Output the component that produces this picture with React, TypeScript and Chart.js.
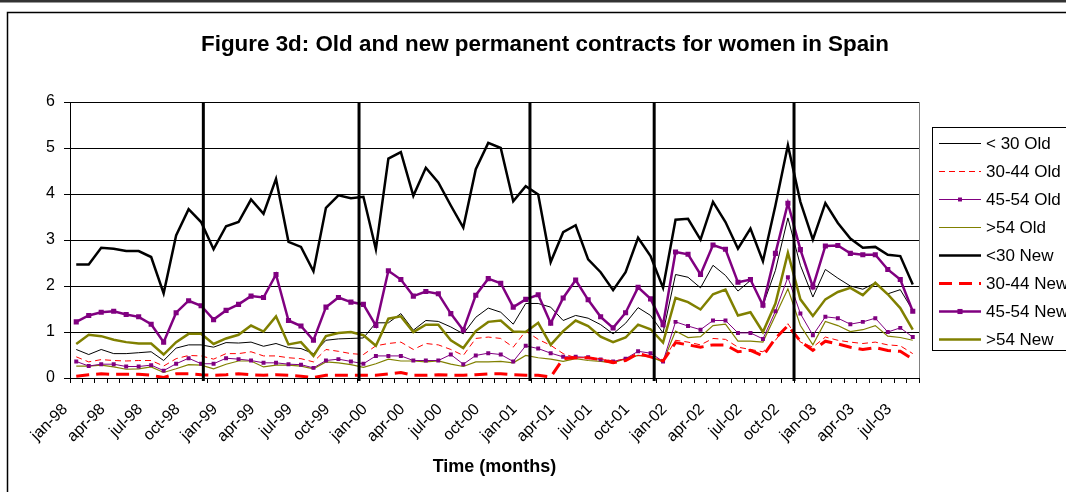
import React, { useEffect, useRef } from 'react';
import { Chart, registerables } from 'chart.js';

Chart.register(...registerables);

const categories = [
  'jan-98','feb-98','mar-98','apr-98','may-98','jun-98','jul-98','aug-98','sep-98','oct-98','nov-98','dec-98',
  'jan-99','feb-99','mar-99','apr-99','may-99','jun-99','jul-99','aug-99','sep-99','oct-99','nov-99','dec-99',
  'jan-00','feb-00','mar-00','apr-00','may-00','jun-00','jul-00','aug-00','sep-00','oct-00','nov-00','dec-00',
  'jan-01','feb-01','mar-01','apr-01','may-01','jun-01','jul-01','aug-01','sep-01','oct-01','nov-01','dec-01',
  'jan-02','feb-02','mar-02','apr-02','may-02','jun-02','jul-02','aug-02','sep-02','oct-02','nov-02','dec-02',
  'jan-03','feb-03','mar-03','apr-03','may-03','jun-03','jul-03','aug-03',
];

const tickLabels = [
  'jan-98','apr-98','jul-98','oct-98','jan-99','apr-99','jul-99','oct-99',
  'jan-00','apr-00','jul-00','oct-00','jan-01','apr-01','jul-01','oct-01',
  'jan-02','apr-02','jul-02','oct-02','jan-03','apr-03','jul-03',
];

// positions of the vertical event lines, in category units on the x axis
const eventLinePositions = [10.18, 22.65, 36.34, 46.29, 57.49];

const oldUnder30 = [
  0.62, 0.51, 0.62, 0.53, 0.53, 0.55, 0.57, 0.38, 0.65, 0.72, 0.72, 0.67,
  0.77, 0.76, 0.78, 0.69, 0.75, 0.66, 0.64, 0.53, 0.82, 0.85, 0.86, 0.87,
  1.20, 1.20, 1.40, 1.04, 1.25, 1.23, 1.11, 0.96, 1.32, 1.52, 1.43, 1.17,
  1.62, 1.62, 1.54, 1.25, 1.36, 1.30, 1.16, 0.96, 1.19, 1.53, 1.36, 0.98,
  2.25, 2.19, 1.96, 2.45, 2.23, 1.89, 2.12, 1.58, 2.34, 3.48, 2.45, 1.76,
  2.36, 2.17, 2.00, 1.93, 2.07, 1.83, 1.92, 1.47,
];

const old3044 = [
  0.46, 0.35, 0.40, 0.38, 0.37, 0.38, 0.38, 0.26, 0.42, 0.49, 0.48, 0.41,
  0.53, 0.53, 0.57, 0.48, 0.48, 0.44, 0.42, 0.35, 0.62, 0.58, 0.53, 0.51,
  0.70, 0.75, 0.78, 0.62, 0.75, 0.72, 0.62, 0.49, 0.86, 0.89, 0.86, 0.67,
  1.02, 0.84, 0.71, 0.53, 0.44, 0.44, 0.42, 0.37, 0.41, 0.49, 0.47, 0.37,
  0.82, 0.78, 0.72, 0.86, 0.84, 0.67, 0.62, 0.57, 0.82, 1.18, 0.78, 0.67,
  0.89, 0.82, 0.78, 0.75, 0.78, 0.72, 0.70, 0.53,
];

const old4554 = [
  0.36, 0.26, 0.30, 0.30, 0.25, 0.25, 0.28, 0.16, 0.31, 0.43, 0.31, 0.31,
  0.43, 0.41, 0.38, 0.33, 0.33, 0.30, 0.29, 0.22, 0.38, 0.41, 0.36, 0.31,
  0.48, 0.48, 0.48, 0.38, 0.38, 0.38, 0.51, 0.30, 0.49, 0.54, 0.51, 0.36,
  0.70, 0.64, 0.54, 0.46, 0.46, 0.45, 0.40, 0.36, 0.42, 0.58, 0.54, 0.36,
  1.22, 1.13, 1.05, 1.25, 1.25, 0.98, 0.98, 0.85, 1.45, 2.19, 1.40, 0.93,
  1.33, 1.30, 1.17, 1.22, 1.30, 1.00, 1.09, 0.89,
];

const oldOver54 = [
  0.26, 0.26, 0.28, 0.24, 0.19, 0.20, 0.24, 0.12, 0.20, 0.29, 0.28, 0.20,
  0.30, 0.37, 0.37, 0.24, 0.28, 0.28, 0.26, 0.20, 0.35, 0.33, 0.29, 0.23,
  0.31, 0.41, 0.37, 0.37, 0.35, 0.37, 0.30, 0.25, 0.35, 0.35, 0.36, 0.33,
  0.49, 0.44, 0.41, 0.36, 0.42, 0.38, 0.36, 0.33, 0.42, 0.49, 0.46, 0.35,
  1.02, 0.88, 0.90, 1.14, 1.17, 0.80, 0.80, 0.78, 1.36, 1.94, 1.14, 0.72,
  1.23, 1.14, 1.01, 1.05, 1.14, 0.91, 0.88, 0.82,
];

const newUnder30 = [
  2.47, 2.47, 2.83, 2.81, 2.76, 2.76, 2.63, 1.84, 3.10, 3.67, 3.39, 2.80,
  3.30, 3.39, 3.88, 3.57, 4.33, 2.96, 2.85, 2.32, 3.70, 3.97, 3.91, 3.94,
  2.80, 4.77, 4.91, 3.96, 4.57, 4.25, 3.75, 3.27, 4.54, 5.11, 5.00, 3.84,
  4.17, 3.99, 2.52, 3.17, 3.32, 2.58, 2.30, 1.91, 2.30, 3.05, 2.65, 1.96,
  3.44, 3.46, 3.01, 3.83, 3.39, 2.81, 3.25, 2.54, 3.75, 5.06, 3.83, 3.01,
  3.80, 3.37, 3.03, 2.83, 2.85, 2.68, 2.65, 2.03,
];

const new3044 = [
  0.04, 0.07, 0.09, 0.08, 0.08, 0.08, 0.06, 0.01, 0.09, 0.09, 0.07, 0.06,
  0.07, 0.09, 0.07, 0.06, 0.07, 0.06, 0.04, 0.01, 0.06, 0.06, 0.06, 0.06,
  0.06, 0.09, 0.12, 0.06, 0.06, 0.07, 0.06, 0.06, 0.07, 0.09, 0.09, 0.07,
  0.06, 0.06, 0.02, 0.42, 0.44, 0.44, 0.40, 0.33, 0.38, 0.53, 0.46, 0.37,
  0.77, 0.72, 0.67, 0.72, 0.72, 0.57, 0.60, 0.48, 0.86, 1.14, 0.80, 0.60,
  0.80, 0.74, 0.67, 0.62, 0.66, 0.60, 0.58, 0.41,
];

const new4554 = [
  1.22, 1.36, 1.43, 1.45, 1.38, 1.33, 1.17, 0.78, 1.42, 1.68, 1.57, 1.27,
  1.47, 1.60, 1.78, 1.75, 2.25, 1.25, 1.13, 0.82, 1.54, 1.75, 1.65, 1.60,
  1.14, 2.33, 2.14, 1.78, 1.88, 1.83, 1.40, 1.04, 1.80, 2.16, 2.06, 1.54,
  1.71, 1.81, 1.19, 1.74, 2.13, 1.70, 1.33, 1.09, 1.42, 1.97, 1.72, 1.16,
  2.74, 2.69, 2.25, 2.89, 2.80, 2.08, 2.14, 1.58, 2.71, 3.80, 2.79, 1.98,
  2.87, 2.88, 2.71, 2.68, 2.68, 2.36, 2.14, 1.45,
];

const newOver54 = [
  0.74, 0.94, 0.91, 0.83, 0.78, 0.75, 0.75, 0.51, 0.78, 0.96, 0.96, 0.74,
  0.86, 0.94, 1.14, 1.01, 1.34, 0.73, 0.78, 0.48, 0.91, 0.98, 1.00, 0.93,
  0.70, 1.29, 1.34, 1.00, 1.16, 1.16, 0.82, 0.65, 1.02, 1.22, 1.25, 1.01,
  1.00, 1.20, 0.72, 1.02, 1.25, 1.13, 0.90, 0.78, 0.88, 1.16, 1.06, 0.77,
  1.74, 1.65, 1.49, 1.82, 1.92, 1.36, 1.43, 1.00, 1.62, 2.72, 1.71, 1.35,
  1.71, 1.87, 1.96, 1.80, 2.07, 1.82, 1.52, 1.05,
];

const FONT = '"Liberation Sans", Arial, sans-serif';

const decorPlugin = {
  id: 'decor',
  beforeDraw(chart: any) {
    const ctx = chart.ctx;
    ctx.save();
    ctx.fillStyle = '#ffffff';
    ctx.fillRect(0, 0, chart.width, chart.height);
    // band at the very top
    ctx.fillStyle = '#333333';
    ctx.fillRect(0, 0, chart.width, 2);
    ctx.fillStyle = '#999999';
    ctx.fillRect(0, 2, chart.width, 1);
    // outer frame
    ctx.strokeStyle = '#000000';
    ctx.lineWidth = 1.5;
    ctx.strokeRect(7.5, 12.5, chart.width + 20, chart.height + 20);
    ctx.restore();
  },
  beforeDatasetsDraw(chart: any) {
    const ctx = chart.ctx;
    const a = chart.chartArea;
    ctx.save();
    ctx.strokeStyle = '#808080';
    ctx.lineWidth = 1;
    ctx.beginPath();
    ctx.moveTo(Math.round(a.right) + 0.5, a.top);
    ctx.lineTo(Math.round(a.right) + 0.5, a.bottom);
    ctx.stroke();
    ctx.restore();
  },
  afterDatasetsDraw(chart: any) {
    const ctx = chart.ctx;
    const a = chart.chartArea;
    const xs = chart.scales.x;
    ctx.save();
    ctx.strokeStyle = '#000000';
    ctx.lineWidth = 3;
    eventLinePositions.forEach((v) => {
      const px = xs.getPixelForValue(v);
      ctx.beginPath();
      ctx.moveTo(px, a.top);
      ctx.lineTo(px, a.bottom + 3);
      ctx.stroke();
    });
    ctx.restore();
  },
  afterDraw(chart: any) {
    const ctx = chart.ctx;
    const a = chart.chartArea;
    ctx.save();
    ctx.fillStyle = '#000000';
    ctx.textAlign = 'center';
    ctx.textBaseline = 'middle';
    ctx.font = `bold 22.4px ${FONT}`;
    ctx.fillText('Figure 3d: Old and new permanent contracts for women in Spain', 545, 45);
    ctx.font = `bold 18px ${FONT}`;
    ctx.fillText('Time (months)', (a.left + a.right) / 2, 467);

    // legend
    const boxX = 932.5;
    const boxY = 127.5;
    ctx.fillStyle = '#ffffff';
    ctx.fillRect(boxX, boxY, 200, 223);
    ctx.strokeStyle = '#000000';
    ctx.lineWidth = 1;
    ctx.strokeRect(boxX, boxY, 200, 223);
    ctx.font = `17px ${FONT}`;
    ctx.textAlign = 'left';
    chart.data.datasets.forEach((ds: any, i: number) => {
      const y = 143.5 + i * 28;
      ctx.save();
      ctx.strokeStyle = ds.borderColor;
      ctx.lineWidth = ds.borderWidth;
      ctx.setLineDash(ds.borderDash || []);
      ctx.beginPath();
      ctx.moveTo(939, y);
      ctx.lineTo(981, y);
      ctx.stroke();
      ctx.restore();
      if (ds.pointRadius > 0) {
        const s = ds.pointRadius * Math.SQRT2;
        ctx.fillStyle = ds.pointBackgroundColor;
        ctx.fillRect(960 - s / 2, y - s / 2, s, s);
      }
      ctx.fillStyle = '#000000';
      ctx.fillText(ds.label, 986, y + 1);
    });
    ctx.restore();
  },
};

export default function App() {
  const canvasRef = useRef<HTMLCanvasElement | null>(null);

  useEffect(() => {
    const canvas = canvasRef.current;
    if (!canvas) return;
    const line = (label: string, data: number[], color: string, width: number, extra: any = {}) => ({
      label,
      data,
      borderColor: color,
      backgroundColor: color,
      borderWidth: width,
      pointRadius: 0,
      pointHoverRadius: 0,
      tension: 0,
      fill: false,
      ...extra,
    });
    const chart = new Chart(canvas, {
      type: 'line',
      data: {
        labels: categories,
        datasets: [
          line('< 30 Old', oldUnder30, '#000000', 1, { order: 3 }),
          line('30-44 Old', old3044, '#ff0000', 1, { borderDash: [6, 4], order: 3 }),
          line('45-54 Old', old4554, '#800080', 1, {
            pointStyle: 'rect', pointRadius: 2.8, pointBackgroundColor: '#800080',
            pointBorderColor: '#800080', pointBorderWidth: 0, order: 3,
          }),
          line('>54 Old', oldOver54, '#808000', 1.2, { order: 3 }),
          line('<30 New', newUnder30, '#000000', 2.5, { order: 1 }),
          line('30-44 New', new3044, '#ff0000', 3, { borderDash: [13, 7], order: 2 }),
          line('45-54 New', new4554, '#800080', 2.5, {
            pointStyle: 'rect', pointRadius: 3.6, pointBackgroundColor: '#800080',
            pointBorderColor: '#800080', pointBorderWidth: 0, order: 1,
          }),
          line('>54 New', newOver54, '#808000', 2.5, { order: 1 }),
        ],
      },
      options: {
        responsive: false,
        animation: false,
        events: [],
        layout: { padding: { left: 0, right: 147, top: 102, bottom: 0 } },
        plugins: {
          legend: { display: false },
          title: { display: false },
          tooltip: { enabled: false },
        },
        scales: {
          x: {
            type: 'category',
            offset: true,
            afterFit: (s: any) => { s.height = 114; },
            grid: {
              display: true,
              drawOnChartArea: false,
              drawTicks: true,
              tickLength: 5,
              offset: true,
              color: '#000000',
            },
            border: { display: true, color: '#000000', width: 1 },
            ticks: {
              autoSkip: false,
              maxRotation: 45,
              minRotation: 45,
              padding: 17,
              labelOffset: -11,
              color: '#000000',
              font: { family: FONT, size: 16 },
              callback: (_v: any, idx: number) =>
                tickLabels.includes(categories[idx]) ? categories[idx] : '',
            },
          },
          y: {
            min: 0,
            max: 6,
            afterFit: (s: any) => { s.width = 70; },
            grid: { color: '#000000', lineWidth: 1, tickLength: 6 },
            border: { display: true, color: '#000000', width: 1 },
            ticks: {
              stepSize: 1,
              padding: 9,
              color: '#000000',
              font: { family: FONT, size: 16 },
            },
          },
        },
      },
      plugins: [decorPlugin],
    });
    return () => chart.destroy();
  }, []);

  return (
    <div style={{ position: 'absolute', left: 0, top: 0, width: 1066, height: 492, overflow: 'hidden' }}>
      <canvas ref={canvasRef} width={1066} height={492} style={{ display: 'block', width: 1066, height: 492 }} />
    </div>
  );
}
